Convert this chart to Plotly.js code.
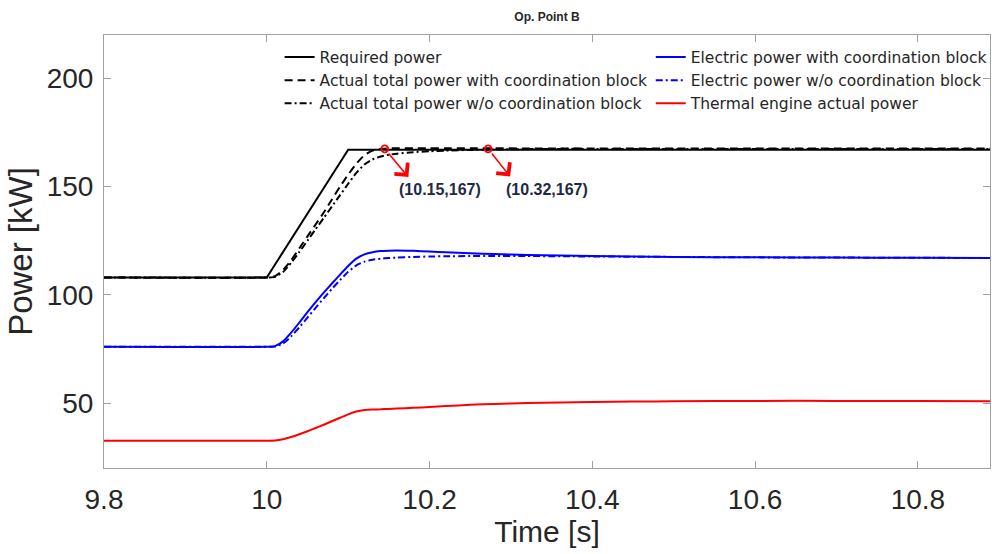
<!DOCTYPE html>
<html>
<head>
<meta charset="utf-8">
<script src="https://cdn.plot.ly/plotly-3.0.1.min.js"></script>
<style>html,body{margin:0;padding:0;background:#fff;}#chart{width:992px;height:554px;}</style>
</head>
<body>
<div id="chart"></div>
<script>
// ---- data ----
var time = [9.8, 10.0, 10.01, 10.02, 10.03, 10.04, 10.05, 10.06, 10.07, 10.08, 10.09, 10.10, 10.11, 10.12, 10.13, 10.14, 10.15, 10.16, 10.18, 10.20, 10.22, 10.25, 10.28, 10.32, 10.36, 10.40, 10.45, 10.50, 10.60, 10.70, 10.80, 10.90];

var requiredPower = [108, 108, 113.9, 119.8, 125.7, 131.6, 137.5, 143.4, 149.3, 155.2, 161.1, 167, 167, 167, 167, 167, 167, 167, 167, 167, 167, 167, 167, 167, 167, 167, 167, 167, 167, 167, 167, 167];

var totalWithCoord = [108, 108, 108.6, 111.5, 116, 121.5, 127, 132.5, 138, 144, 150, 155.5, 160.5, 164.5, 166.6, 167.4, 167.6, 167.7, 167.7, 167.7, 167.7, 167.7, 167.7, 167.6, 167.6, 167.6, 167.6, 167.6, 167.6, 167.6, 167.6, 167.6];

var totalWithoutCoord = [108, 108, 108.3, 110.5, 114.8, 119.8, 125, 130.3, 135.5, 140.8, 146, 151.3, 156.3, 160.2, 162.6, 163.9, 164.7, 165.2, 165.9, 166.3, 166.6, 166.9, 167.1, 167.3, 167.4, 167.4, 167.4, 167.4, 167.4, 167.4, 167.4, 167.4];

var electricWithCoord = [76, 76, 76.3, 78.5, 82.5, 87.2, 92, 96.6, 101, 105.2, 109.3, 113.3, 116.7, 118.7, 119.7, 120.2, 120.4, 120.5, 120.3, 120.0, 119.6, 119.2, 118.8, 118.4, 118.1, 117.9, 117.7, 117.5, 117.3, 117.2, 117.1, 117.0];

var electricWithoutCoord = [76, 76, 76.1, 77.5, 80.8, 85, 89.5, 94, 98.4, 102.7, 106.8, 110.6, 113.6, 115.3, 116.2, 116.7, 117.0, 117.2, 117.5, 117.7, 117.8, 117.9, 117.9, 117.9, 117.8, 117.7, 117.6, 117.5, 117.3, 117.2, 117.1, 117.0];

var thermalPower = [32.6, 32.6, 32.7, 33.3, 34.3, 35.6, 37, 38.5, 40, 41.6, 43.2, 44.8, 46.1, 46.8, 47.0, 47.1, 47.3, 47.5, 47.8, 48.2, 48.6, 49.2, 49.6, 50.0, 50.3, 50.5, 50.7, 50.8, 51.0, 51.0, 50.9, 50.8];

var markerTime = [10.145, 10.272];
var markerPower = [167.4, 167.4];
var markerLabels = ['(10.15,167)', '(10.32,167)'];
var arrowTipTime = [10.174, 10.299];
var arrowTipPower = [154.4, 154.6];
var labelTime = [10.213, 10.344];
var labelPower = [148.5, 148.5];

var seriesNames = ['Required power', 'Actual total power with coordination block', 'Actual total power w/o coordination block',
                   'Electric power with coordination block', 'Electric power w/o coordination block', 'Thermal engine actual power'];

// ---- traces ----
var font = 'Liberation Sans, Arial, sans-serif';
var traces = [
  {x: time, y: requiredPower, name: seriesNames[0], mode: 'lines', line: {color: '#000000', width: 2}, legend: 'legend'},
  {x: time, y: totalWithCoord, name: seriesNames[1], mode: 'lines', line: {color: '#000000', width: 2, dash: '8px,5px', shape: 'spline', smoothing: 0.5}, legend: 'legend'},
  {x: time, y: totalWithoutCoord, name: seriesNames[2], mode: 'lines', line: {color: '#000000', width: 2, dash: '7px,3px,2px,3px', shape: 'spline', smoothing: 0.5}, legend: 'legend'},
  {x: time, y: electricWithCoord, name: seriesNames[3], mode: 'lines', line: {color: '#0000ff', width: 2, shape: 'spline', smoothing: 0.5}, legend: 'legend2'},
  {x: time, y: electricWithoutCoord, name: seriesNames[4], mode: 'lines', line: {color: '#0000ff', width: 2, dash: '7px,3px,2px,3px', shape: 'spline', smoothing: 0.5}, legend: 'legend2'},
  {x: time, y: thermalPower, name: seriesNames[5], mode: 'lines', line: {color: '#ff0000', width: 2, shape: 'spline', smoothing: 0.5}, legend: 'legend2'},
  {x: markerTime, y: markerPower, mode: 'markers', showlegend: false, hoverinfo: 'skip',
   marker: {symbol: 'circle-open', size: 7, color: '#ff0000', line: {width: 1.8, color: '#ff0000'}}}
];

var annotations = [];
for (var i = 0; i < markerTime.length; i++) {
  annotations.push({x: arrowTipTime[i], y: arrowTipPower[i], xref: 'x', yref: 'y', ax: markerTime[i], ay: markerPower[i], axref: 'x', ayref: 'y',
    text: '', showarrow: true, arrowhead: 4, arrowsize: 2.1, arrowwidth: 1.6, arrowcolor: '#ff0000', startstandoff: 4});
  annotations.push({x: labelTime[i], y: labelPower[i], xref: 'x', yref: 'y', text: '<b>' + markerLabels[i] + '</b>', showarrow: false,
    font: {family: font, size: 16, color: '#1f2a44'}});
}

var axisCommon = {
  showgrid: false, zeroline: false, showline: true, linecolor: '#a0a0a0', linewidth: 1, mirror: 'ticks',
  ticks: 'inside', ticklen: 7, tickcolor: '#a0a0a0', tickwidth: 1,
  tickfont: {family: font, size: 28, color: '#262626'}
};

var layout = {
  width: 992, height: 554,
  margin: {l: 104, r: 0, t: 35, b: 86},
  paper_bgcolor: '#ffffff', plot_bgcolor: '#ffffff',
  title: {text: '<b>Op. Point B</b>', font: {family: font, size: 12, color: '#262626'}, xref: 'paper', x: 0.5, xanchor: 'center', yref: 'container', y: 0.969, yanchor: 'middle'},
  xaxis: Object.assign({}, axisCommon, {range: [9.8, 10.8886], tickvals: [9.8, 10, 10.2, 10.4, 10.6, 10.8], ticktext: ['9.8', '10', '10.2', '10.4', '10.6', '10.8'],
    ticklabelstandoff: 6,
    title: {text: 'Time [s]', font: {family: font, size: 30, color: '#262626'}, standoff: 6}}),
  yaxis: Object.assign({}, axisCommon, {range: [20, 220], tickvals: [50, 100, 150, 200], ticktext: ['50', '100', '150', '200'],
    ticklabelstandoff: 4,
    title: {text: 'Power [kW]', font: {family: font, size: 33, color: '#262626'}, standoff: 4}}),
  legend: {x: 0.1982, y: 0.9875, xanchor: 'left', yanchor: 'top', bgcolor: 'rgba(0,0,0,0)', borderwidth: 0,
    font: {family: 'DejaVu Sans, sans-serif', size: 15.5, color: '#262626'}},
  legend2: {x: 0.6171, y: 0.9875, xanchor: 'left', yanchor: 'top', bgcolor: 'rgba(0,0,0,0)', borderwidth: 0,
    font: {family: 'DejaVu Sans, sans-serif', size: 15.5, color: '#262626'}},
  annotations: annotations,
  showlegend: true
};

Plotly.newPlot('chart', traces, layout, {displayModeBar: false, staticPlot: true});
</script>
</body>
</html>
